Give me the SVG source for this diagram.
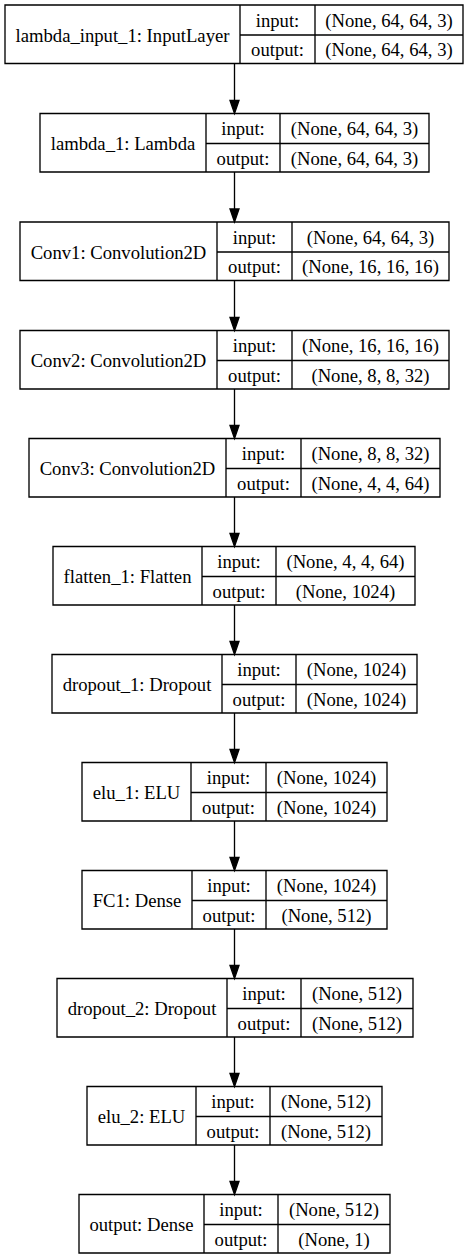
<svg xmlns="http://www.w3.org/2000/svg" width="469" height="1259" viewBox="0 0 469 1259">
  <style>
    .box { fill: none; stroke: #000; stroke-width: 1.33; }
    .edge { fill: none; stroke: #000; stroke-width: 1.33; }
    .head { fill: #000; stroke: #000; stroke-width: 1.33; }
    text { font-family: "Liberation Serif", "Times New Roman", serif; font-size: 18.67px; fill: #000; text-anchor: middle; }
  </style>
  <rect width="469" height="1259" fill="#fff"/>

  <!-- connectors: layer i bottom to layer i+1 top -->
  <g id="edges">
    <path class="edge" d="M234.5 63.5V100.5"/><polygon class="head" points="230,100.5 239,100.5 234.5,113.5"/>
    <path class="edge" d="M234.5 172V209"/><polygon class="head" points="230,209 239,209 234.5,222"/>
    <path class="edge" d="M234.5 280.5V317.5"/><polygon class="head" points="230,317.5 239,317.5 234.5,330.5"/>
    <path class="edge" d="M234.5 389V425.5"/><polygon class="head" points="230,425.5 239,425.5 234.5,438.5"/>
    <path class="edge" d="M234.5 497V533.5"/><polygon class="head" points="230,533.5 239,533.5 234.5,546.5"/>
    <path class="edge" d="M234.5 605V641.5"/><polygon class="head" points="230,641.5 239,641.5 234.5,654.5"/>
    <path class="edge" d="M234.5 713V749.5"/><polygon class="head" points="230,749.5 239,749.5 234.5,762.5"/>
    <path class="edge" d="M234.5 821V857.5"/><polygon class="head" points="230,857.5 239,857.5 234.5,870.5"/>
    <path class="edge" d="M234.5 929V965.5"/><polygon class="head" points="230,965.5 239,965.5 234.5,978.5"/>
    <path class="edge" d="M234.5 1037V1073.5"/><polygon class="head" points="230,1073.5 239,1073.5 234.5,1086.5"/>
    <path class="edge" d="M234.5 1145V1181.5"/><polygon class="head" points="230,1181.5 239,1181.5 234.5,1194.5"/>
  </g>

  <!-- layer nodes: name | input:/output: | shapes -->
  <g id="lambda_input_1">
    <path class="box" d="M5 5H463V63.5H5Z M240 5V63.5 M315 5V63.5 M240 35H463"/>
    <text x="122.5" y="41.5">lambda_input_1: InputLayer</text>
    <text x="277.5" y="26.5">input:</text><text x="277.5" y="56">output:</text>
    <text x="389" y="26.5">(None, 64, 64, 3)</text><text x="389" y="56">(None, 64, 64, 3)</text>
  </g>
  <g id="lambda_1">
    <path class="box" d="M40 113.5H429V172H40Z M206 113.5V172 M280 113.5V172 M206 143.5H429"/>
    <text x="123" y="150">lambda_1: Lambda</text>
    <text x="243" y="135">input:</text><text x="243" y="164.5">output:</text>
    <text x="354.5" y="135">(None, 64, 64, 3)</text><text x="354.5" y="164.5">(None, 64, 64, 3)</text>
  </g>
  <g id="Conv1">
    <path class="box" d="M20 222H449V280.5H20Z M217 222V280.5 M292 222V280.5 M217 252H449"/>
    <text x="118.5" y="258.5">Conv1: Convolution2D</text>
    <text x="254.5" y="243.5">input:</text><text x="254.5" y="273">output:</text>
    <text x="370.5" y="243.5">(None, 64, 64, 3)</text><text x="370.5" y="273">(None, 16, 16, 16)</text>
  </g>
  <g id="Conv2">
    <path class="box" d="M20 330.5H449V389H20Z M217 330.5V389 M292 330.5V389 M217 360.5H449"/>
    <text x="118.5" y="367">Conv2: Convolution2D</text>
    <text x="254.5" y="352">input:</text><text x="254.5" y="381.5">output:</text>
    <text x="370.5" y="352">(None, 16, 16, 16)</text><text x="370.5" y="381.5">(None, 8, 8, 32)</text>
  </g>
  <g id="Conv3">
    <path class="box" d="M29 438.5H440V497H29Z M226 438.5V497 M301 438.5V497 M226 468.5H440"/>
    <text x="127.5" y="475">Conv3: Convolution2D</text>
    <text x="263.5" y="460">input:</text><text x="263.5" y="489.5">output:</text>
    <text x="370.5" y="460">(None, 8, 8, 32)</text><text x="370.5" y="489.5">(None, 4, 4, 64)</text>
  </g>
  <g id="flatten_1">
    <path class="box" d="M53 546.5H415V605H53Z M202 546.5V605 M276 546.5V605 M202 576.5H415"/>
    <text x="127.5" y="583">flatten_1: Flatten</text>
    <text x="239" y="568">input:</text><text x="239" y="597.5">output:</text>
    <text x="345.5" y="568">(None, 4, 4, 64)</text><text x="345.5" y="597.5">(None, 1024)</text>
  </g>
  <g id="dropout_1">
    <path class="box" d="M52 654.5H417V713H52Z M222 654.5V713 M296 654.5V713 M222 684.5H417"/>
    <text x="137" y="691">dropout_1: Dropout</text>
    <text x="259" y="676">input:</text><text x="259" y="705.5">output:</text>
    <text x="356.5" y="676">(None, 1024)</text><text x="356.5" y="705.5">(None, 1024)</text>
  </g>
  <g id="elu_1">
    <path class="box" d="M82 762.5H387V821H82Z M191 762.5V821 M266 762.5V821 M191 792.5H387"/>
    <text x="136.5" y="799">elu_1: ELU</text>
    <text x="228.5" y="784">input:</text><text x="228.5" y="813.5">output:</text>
    <text x="326.5" y="784">(None, 1024)</text><text x="326.5" y="813.5">(None, 1024)</text>
  </g>
  <g id="FC1">
    <path class="box" d="M82 870.5H387V929H82Z M192 870.5V929 M266 870.5V929 M192 900.5H387"/>
    <text x="137" y="907">FC1: Dense</text>
    <text x="229" y="892">input:</text><text x="229" y="921.5">output:</text>
    <text x="326.5" y="892">(None, 1024)</text><text x="326.5" y="921.5">(None, 512)</text>
  </g>
  <g id="dropout_2">
    <path class="box" d="M57 978.5H413V1037H57Z M227 978.5V1037 M301 978.5V1037 M227 1008.5H413"/>
    <text x="142" y="1015">dropout_2: Dropout</text>
    <text x="264" y="1000">input:</text><text x="264" y="1029.5">output:</text>
    <text x="357" y="1000">(None, 512)</text><text x="357" y="1029.5">(None, 512)</text>
  </g>
  <g id="elu_2">
    <path class="box" d="M87 1086.5H382V1145H87Z M196 1086.5V1145 M270 1086.5V1145 M196 1116.5H382"/>
    <text x="141.5" y="1123">elu_2: ELU</text>
    <text x="233" y="1108">input:</text><text x="233" y="1137.5">output:</text>
    <text x="326" y="1108">(None, 512)</text><text x="326" y="1137.5">(None, 512)</text>
  </g>
  <g id="output">
    <path class="box" d="M79 1194.5H390V1253H79Z M204 1194.5V1253 M278 1194.5V1253 M204 1224.5H390"/>
    <text x="141.5" y="1231">output: Dense</text>
    <text x="241" y="1216">input:</text><text x="241" y="1245.5">output:</text>
    <text x="334" y="1216">(None, 512)</text><text x="334" y="1245.5">(None, 1)</text>
  </g>
</svg>
